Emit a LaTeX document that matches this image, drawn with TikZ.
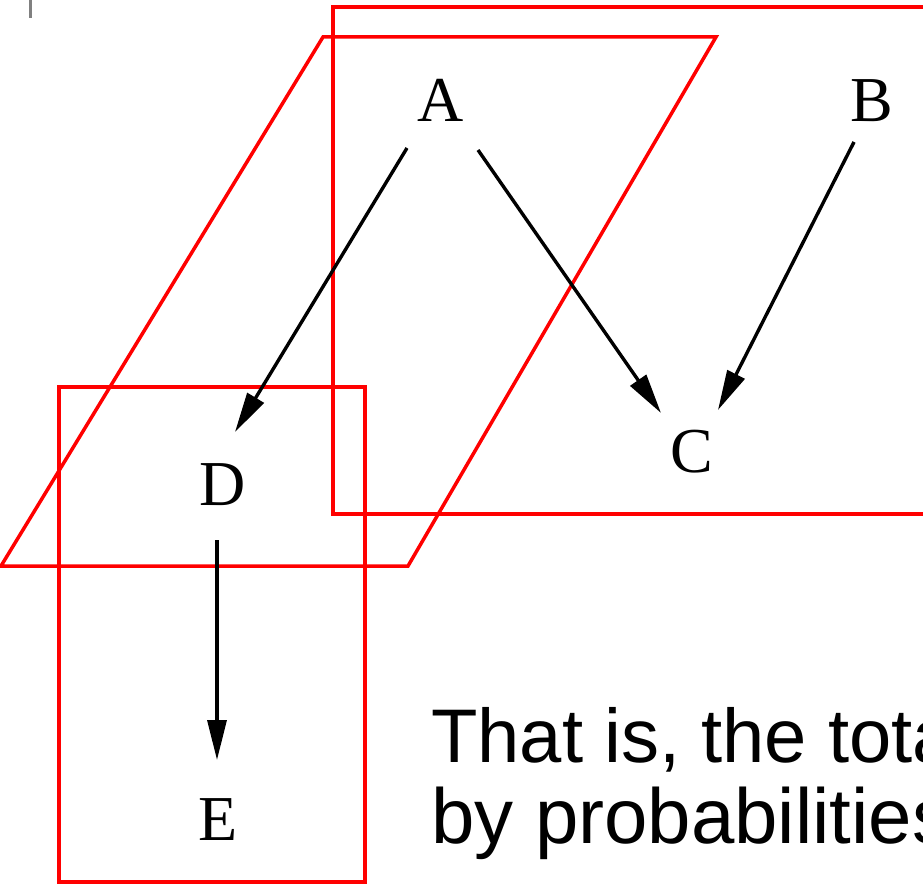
\documentclass[tikz,border=0pt]{standalone}
\usepackage{fontspec}
\setmainfont{Liberation Serif}
\newfontfamily\arialfont{Liberation Sans}
\usetikzlibrary{arrows.meta,calc}
\begin{document}
\begin{tikzpicture}[x=1pt,y=-1pt,
  frame/.style={draw=red,line width=3.5pt},
  arr/.style={draw=black,line width=3.4pt,-{Triangle[length=40pt,width=19pt]}},
  lbl/.style={font=\fontsize{64}{64}\selectfont,anchor=base,inner sep=0pt},
  body/.style={anchor=base west,inner sep=0pt}]
\useasboundingbox (0,0) rectangle (923,885);
\clip (0,0) rectangle (923,885);
\draw[gray,line width=3pt] (30,0) -- (30,18);
\draw[frame] (333,7) rectangle (960,514);
\draw[frame] (323,37) -- (716,37) -- (408,566) -- (1,566) -- cycle;
\draw[frame] (59,387) rectangle (365,882);
\node[lbl] (A) at (441,122) {A};
\node[lbl] (B) at (872,122) {B};
\node[lbl] (C) at (692,472) {C};
\node[lbl] (D) at (223,505) {D};
\node[lbl] (E) at (218,840) {E};
\draw[arr] ($(A.base)+(-34,26)$) -- ($(D.base)+(12,-73)$);
\draw[arr] ($(A.base)+(37,28)$) -- ($(C.base)+(-31,-59)$);
\draw[arr] ($(B.base)+(-18,20)$) -- ($(C.base)+(26,-62)$);
\draw[arr] ($(D.base)+(-6,35)$) -- ($(E.base)+(-1,-80)$);
\node[body,font=\arialfont\fontsize{76}{81}\selectfont] (T1) at (431,762) {That is, the total};
\node[body,font=\arialfont\fontsize{78}{81}\selectfont] (T2) at (431,843) {by probabilities};
\end{tikzpicture}
\end{document}
